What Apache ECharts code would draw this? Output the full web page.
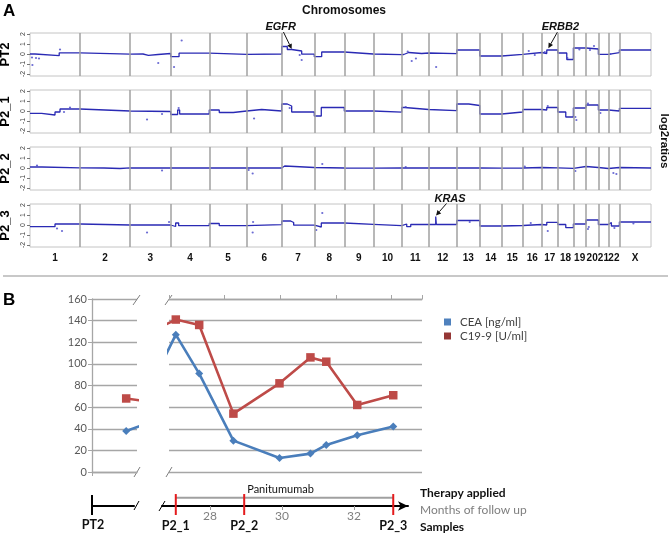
<!DOCTYPE html>
<html><head><meta charset="utf-8">
<script src="https://cdn.jsdelivr.net/npm/echarts@6/dist/echarts.min.js"></script>
<style>html,body{margin:0;padding:0;background:#fff}#c{width:672px;height:537px}</style>
</head><body><div id="c"></div>
<script>
// ---------------- DATA: panel A ----------------
const chromNames = ['1','2','3','4','5','6','7','8','9','10','11','12','13','14','15','16','17','18','19','20','21','22','X'];
const chromLen = [250,250,203,193,187,175,163,150,145,142,135,140,115,110,105,95,80,78,63,62,50,55,158];
const sampleNames = ['PT2','P2_1','P2_2','P2_3'];
const log2Ticks = [-2,-1,0,1,2];
// segments: [chromosome, start Mb, end Mb, log2 ratio]
const segPT2 = [
 [1,0,25,0.0],[1,25,146,-0.17],[1,146,250,0.12],[2,0,250,-0.02],
 [3,0,65,0.0],[3,65,92,-0.13],[3,92,140,-0.05],[3,140,203,0.05],
 [4,0,42,-0.27],[4,42,193,0.08],[5,0,187,-0.03],[6,0,175,0.0],
 [7,0,28,0.75],[7,28,50,0.45],[7,50,100,0.3],[7,100,163,-0.02],
 [8,0,37,-0.27],[8,37,150,0.2],[9,0,145,0.0],[10,0,142,-0.07],
 [11,0,10,-0.05],[11,10,35,0.15],[11,35,100,0.05],[11,100,135,0.1],
 [12,0,140,0.03],[13,0,115,0.4],[14,0,110,-0.2],[15,0,105,-0.03],[16,0,95,0.15],
 [17,0,25,0.05],[17,25,80,0.4],[18,0,45,0.1],[18,45,78,-0.55],
 [19,0,63,0.6],[20,0,62,0.5],[21,0,50,-0.03],[22,0,55,0.13],[23,0,158,0.4]
];
const dotsPT2 = [[1,10,-0.35],[1,12,-1.1],[1,30,-0.4],[1,45,-0.45],[1,150,0.45],[3,141,-0.9],[4,17,-1.3],[4,55,1.35],
 [7,100,-0.6],[7,90,-0.1],[11,50,-0.7],[11,71,-0.45],[11,30,0.25],[12,37,-1.3],[16,30,0.3],[16,60,-0.1],[17,15,0.2],
 [18,48,-0.4],[19,30,0.45],[20,40,0.8],[20,20,0.4],[22,10,0.0]];
const segP2_1 = [
 [1,0,58,-0.24],[1,58,125,-0.4],[1,125,150,-0.1],[1,150,250,0.2],[2,0,250,0.0],[3,0,203,-0.05],
 [4,0,35,-0.35],[4,35,45,0.1],[4,45,193,-0.3],[5,0,50,0.1],[5,50,120,-0.15],[5,120,187,0.0],
 [6,0,75,0.15],[6,75,175,0.0],[7,0,28,0.7],[7,28,50,0.5],[7,50,163,-0.1],
 [8,0,35,-0.5],[8,35,150,0.35],[9,0,145,0.0],[10,0,142,-0.12],[11,0,15,0.35],[11,15,135,0.15],
 [12,0,140,0.03],[13,0,60,0.7],[13,60,115,0.55],[14,0,110,-0.3],[15,0,105,-0.1],[16,0,95,0.15],
 [17,0,25,0.1],[17,25,80,0.35],[18,0,40,-0.1],[18,40,78,-0.6],[19,0,63,0.3],[20,0,62,0.6],
 [21,0,50,0.1],[22,0,55,0.0],[23,0,158,0.27]
];
const dotsP2_1 = [[1,170,-0.1],[1,200,0.35],[3,85,-0.85],[3,160,-0.3],[4,40,0.3],[6,37,-0.75],[7,40,0.3],[11,20,0.4],
 [17,30,0.5],[19,10,-0.6],[19,15,-0.9],[20,10,0.75],[21,10,-0.2]];
const segP2_2 = [
 [1,0,60,0.1],[1,60,250,0.02],[2,0,120,0.0],[2,120,200,-0.05],[2,200,250,0.02],[3,0,203,0.0],
 [4,0,193,0.0],[5,0,187,0.0],[6,0,175,0.0],[7,0,15,0.2],[7,15,163,0.05],[8,0,150,0.0],
 [9,0,145,-0.02],[10,0,142,0.0],[11,0,135,0.02],[12,0,140,0.0],[13,0,115,0.0],[14,0,110,-0.02],
 [15,0,105,0.0],[16,0,95,0.05],[17,0,80,0.02],[18,0,78,-0.03],[19,0,63,0.15],[20,0,62,0.05],
 [21,0,50,-0.05],[22,0,55,0.05],[23,0,158,0.0]
];
const dotsP2_2 = [[1,35,0.25],[3,160,-0.25],[6,30,-0.55],[6,10,-0.2],[8,40,0.4],[11,20,0.1],[16,10,0.15],
 [19,10,-0.3],[22,25,-0.5],[22,40,-0.6]];
const segP2_3 = [
 [1,0,125,-0.17],[1,125,250,0.1],[2,0,250,0.0],[3,0,203,0.0],
 [4,0,25,-0.15],[4,25,40,0.2],[4,40,193,-0.07],[5,0,50,0.15],[5,50,187,-0.07],[6,0,175,0.03],
 [7,0,45,0.4],[7,45,60,0.25],[7,60,163,-0.02],[8,0,35,-0.2],[8,35,150,0.2],[9,0,145,0.07],
 [10,0,142,-0.07],[11,0,25,0.1],[11,25,45,-0.17],[11,45,135,0.05],
 [12,0,35,0.05],[12,35,38,0.85],[12,38,140,0.05],[13,0,115,0.45],[14,0,110,-0.1],[15,0,105,-0.05],
 [16,0,95,0.05],[17,0,25,0.0],[17,25,80,0.27],[18,0,40,0.05],[18,40,78,-0.27],[19,0,63,0.1],
 [20,0,62,0.5],[21,0,50,0.05],[22,0,15,0.25],[22,15,55,-0.1],[23,0,158,0.3]
];
const dotsP2_3 = [[1,135,-0.35],[1,160,-0.6],[3,85,-0.75],[3,195,0.3],[6,30,-0.75],[6,32,0.3],[8,10,-0.5],[8,40,1.2],
 [13,65,0.3],[16,40,0.2],[17,30,-0.6],[20,10,-0.4],[20,14,-0.2],[22,30,-0.3],[23,70,0.15]];
// annotated genes: [name, sample row, chromosome, Mb, log2]
const genes = [['EGFR',0,7,50,0.5],['ERBB2',0,17,33,0.58],['KRAS',3,12,36.5,0.95]];

// ---------------- DATA: panel B ----------------
const followMonths = [27.05, 27.70, 28.65, 29.93, 30.79, 31.23, 32.09, 33.09];
const ceaValues   = [127, 91, 29, 13, 17, 25, 34, 42];
const c199Values  = [141, 136, 54, 82, 106, 102, 62, 71];
const pt2CEA = 38, pt2C199 = 68;
// lines crossing the axis break (estimated from the visible slopes)
const ceaAcrossBreakLeft = 50, c199AcrossBreakLeft = 63.5;   // continuation after PT2
const ceaAcrossBreakRight = 90, c199AcrossBreakRight = 132;  // point before P2_1
const monthTicks = [28, 30, 32];
const sampleMonths = [27.05, 28.95, 33.09];
const sampleLabels = ['P2_1','P2_2','P2_3'];
const therapyName = 'Panitumumab';
const seriesNames = ['CEA [ng/ml]','C19-9 [U/ml]'];

// ---------------- build ----------------
const offsets = []; let acc = 0;
chromLen.forEach(l => { offsets.push(acc); acc += l; });
const total = acc;
const centers = chromLen.map((l,i) => offsets[i] + l/2);
const bounds = offsets.slice(1);
const g = (c, p) => offsets[c-1] + p;
const segToLine = segs => { const d = []; segs.forEach(s => { d.push([g(s[0],s[1]), s[3]]); d.push([g(s[0],s[2]), s[3]]); }); return d; };
const dotsToPts = ds => ds.map(d => [g(d[0],d[1]), d[2]]);
const allSegs = [segPT2, segP2_1, segP2_2, segP2_3];
const allDots = [dotsPT2, dotsP2_1, dotsP2_2, dotsP2_3];

const CNV = '#2a2ab4';
const FA = 'Liberation Sans';
const FB = 'Lato';
const GRAY = '#a6a6a6';
const BLUE = '#4a7ebb', RED = '#be4b48';
const NB = {outerBoundsMode:'none', containLabel:false};

const grid = [], xAxis = [], yAxis = [], series = [];
for (let r = 0; r < 4; r++) {
  grid.push(Object.assign({left:30, top:33 + r*57, width:621, height:43, show:true, borderColor:'#c4c4c4', borderWidth:1, backgroundColor:'transparent'}, NB));
  xAxis.push({gridIndex:r, type:'value', min:0, max:total, axisLine:{show:false}, axisTick:{show:false}, splitLine:{show:false},
    axisLabel: r === 3 ? {customValues:centers, margin:6, fontSize:10, fontWeight:'bold', fontFamily:FA, color:'#111',
      formatter: v => { const i = centers.findIndex(c => Math.abs(c - v) < 0.01); return i >= 0 ? chromNames[i] : ''; }} : {show:false}});
  yAxis.push({gridIndex:r, type:'value', min:-2.2, max:2.1, name:sampleNames[r], nameLocation:'middle', nameGap:15, nameRotate:90,
    nameTextStyle:{fontWeight:'bold', fontSize:13, fontFamily:FA, color:'#000'},
    axisLine:{show:false, onZero:false}, axisTick:{show:true, customValues:log2Ticks, length:3, lineStyle:{color:'#777'}},
    axisLabel:{customValues:log2Ticks, rotate:90, fontSize:7, margin:3, color:'#444', fontFamily:FA}, splitLine:{show:false}});
  series.push({type:'line', xAxisIndex:r, yAxisIndex:r, data:segToLine(allSegs[r]), showSymbol:false, silent:true,
    lineStyle:{color:CNV, width:1.3}, z:3,
    markLine:{silent:true, symbol:['none','none'], label:{show:false}, animation:false,
      lineStyle:{color:'#a0a0a0', width:1.5, type:'solid'}, emphasis:{disabled:true}, data:bounds.map(b => ({xAxis:b}))}});
  series.push({type:'scatter', xAxisIndex:r, yAxisIndex:r, data:dotsToPts(allDots[r]), symbolSize:2.2, silent:true,
    itemStyle:{color:'#4646c8'}, z:4});
}
// panel B left part (index 4) and right part (index 5)
grid.push(Object.assign({left:92, top:299, width:45, height:173}, NB));
grid.push(Object.assign({left:169, top:299, width:253, height:173}, NB));
// timeline grids (6 main, 7 PT2)
grid.push(Object.assign({left:162, top:480, width:246, height:26}, NB));
grid.push(Object.assign({left:92, top:480, width:42, height:26}, NB));

xAxis.push({gridIndex:4, type:'value', min:-0.95, max:0.3, axisLine:{show:true, onZero:false, lineStyle:{color:GRAY, width:1.3}},
  axisTick:{show:true, customValues:[-0.95], length:4, lineStyle:{color:GRAY}}, axisLabel:{show:false}, splitLine:{show:false}});
xAxis.push({gridIndex:5, type:'value', min:26.861, max:33.889, show:false});
xAxis.push({gridIndex:5, type:'value', min:0, max:4.55, interval:1, axisLine:{show:true, onZero:false, lineStyle:{color:GRAY, width:1.3}},
  axisTick:{show:true, length:4, lineStyle:{color:GRAY}}, axisLabel:{show:false}, splitLine:{show:false}});
xAxis.push({gridIndex:6, type:'value', min:26.667, max:33.5,
  axisLine:{show:true, onZero:false, lineStyle:{color:'#000', width:2}, symbol:['none','arrow'], symbolSize:[7,10]},
  axisTick:{show:true, customValues:monthTicks, length:4, lineStyle:{color:'#999'}},
  axisLabel:{customValues:monthTicks, color:'#7f7f7f', fontSize:12, margin:4, fontFamily:FB}, splitLine:{show:false}});
xAxis.push({gridIndex:7, type:'value', min:0, max:1, axisLine:{show:true, onZero:false, lineStyle:{color:'#000', width:2}},
  axisTick:{show:false}, axisLabel:{show:false}, splitLine:{show:false}});

yAxis.push({gridIndex:4, type:'value', min:0, max:160, interval:20, axisLine:{show:true, onZero:false, lineStyle:{color:GRAY, width:1.3}},
  axisTick:{show:true, length:4, lineStyle:{color:GRAY}}, axisLabel:{color:'#595959', fontSize:11, margin:5, fontFamily:FB},
  splitLine:{lineStyle:{color:GRAY, width:1.3}}});
yAxis.push({gridIndex:5, type:'value', min:0, max:160, interval:20, axisLine:{show:false}, axisTick:{show:false},
  axisLabel:{show:false}, splitLine:{lineStyle:{color:GRAY, width:1.3}}});
yAxis.push({gridIndex:6, type:'value', min:0, max:1, show:false});
yAxis.push({gridIndex:7, type:'value', min:0, max:1, show:false});

const ceaStyle = {symbol:'diamond', symbolSize:8, lineStyle:{color:BLUE, width:2.6}, itemStyle:{color:BLUE}};
const c199Style = {symbol:'rect', symbolSize:8.5, lineStyle:{color:RED, width:2.6}, itemStyle:{color:RED}};
series.push(Object.assign({type:'line', name:seriesNames[0], xAxisIndex:4, yAxisIndex:4, clip:true, showAllSymbol:true,
  data:[[0,pt2CEA],[1,ceaAcrossBreakLeft]], z:5}, ceaStyle));
series.push(Object.assign({type:'line', name:seriesNames[1], xAxisIndex:4, yAxisIndex:4, clip:true, showAllSymbol:true,
  data:[[0,pt2C199],[1,c199AcrossBreakLeft]], z:5}, c199Style));
series.push(Object.assign({type:'line', name:seriesNames[0], xAxisIndex:5, yAxisIndex:5, clip:true, showAllSymbol:true,
  data:[[26.5,ceaAcrossBreakRight]].concat(followMonths.map((m,i) => [m, ceaValues[i]])), z:5}, ceaStyle));
series.push(Object.assign({type:'line', name:seriesNames[1], xAxisIndex:5, yAxisIndex:5, clip:true, showAllSymbol:true,
  data:[[26.5,c199AcrossBreakRight]].concat(followMonths.map((m,i) => [m, c199Values[i]])), z:5}, c199Style));

// timeline
const MARK_TOP = 0.46, MARK_BOT = -0.346, BAR_Y = 0.319, PT2_TOP = 0.423;
series.push({type:'line', xAxisIndex:7, yAxisIndex:6, data:[[sampleMonths[0],BAR_Y],[sampleMonths[2],BAR_Y]],
  showSymbol:false, silent:true, lineStyle:{color:'#a0a0a0', width:2}, z:2});
sampleMonths.forEach((m,i) => {
  series.push({type:'line', xAxisIndex:7, yAxisIndex:6, clip:false, silent:true, z:4,
    data:[[m,MARK_TOP],[m,MARK_BOT]], symbol:'none', lineStyle:{color:'#e41a1c', width:2}});
});
series.push({type:'line', xAxisIndex:8, yAxisIndex:7, clip:false, silent:true, z:4,
  data:[[0,PT2_TOP],[0,MARK_BOT]], symbol:'none', lineStyle:{color:'#000', width:2}});

const option = {
  animation:false, backgroundColor:'#fff',
  grid, xAxis, yAxis, series,
  legend:{data:[{name:seriesNames[0], itemStyle:{color:'#4f81bd'}},{name:seriesNames[1], itemStyle:{color:'#953735'}}],
    orient:'vertical', left:439, top:311, itemWidth:7, itemHeight:7, itemGap:2, icon:'rect', selectedMode:false,
    textStyle:{fontSize:11.5, color:'#404040', fontFamily:FB, padding:[0,0,0,4]}}
};
const chart = echarts.init(document.getElementById('c'), null, {renderer:'canvas'});
chart.setOption(option);

// ---------------- annotations (positions through the library's scales) ----------------
const gr = [];
const txt = (x,y,text,font,fill,align,extra) => Object.assign({type:'text', x, y, silent:true,
  style:{text, font, fill:fill||'#000', align:align||'left', verticalAlign:'middle'}}, extra||{});
gr.push(txt(3,11,'A','bold 17px '+FA));
gr.push(txt(344,11,'Chromosomes','bold 12px '+FA,'#111','center'));
gr.push(txt(664,141,'log2ratios','bold 11.5px '+FA,'#111','center',{rotation:-Math.PI/2}));
gr.push(txt(3,300,'B','bold 17px '+FA));
gr.push(txt(420,493,'Therapy applied','bold 12px '+FB,'#111'));
gr.push(txt(420,510,'Months of follow up','12px '+FB,'#7f7f7f'));
gr.push(txt(420,527,'Samples','bold 12px '+FB,'#111'));
// therapy label
const pm = chart.convertToPixel({xAxisIndex:7, yAxisIndex:6}, [(sampleMonths[0]+sampleMonths[2])/2, BAR_Y]);
gr.push(txt(pm[0]-4, pm[1]-8, therapyName, '11px '+FB, '#111', 'center'));
// sample labels under the timeline markers
sampleMonths.forEach((m,i) => {
  const p = chart.convertToPixel({xAxisIndex:7, yAxisIndex:6}, [m, MARK_BOT]);
  gr.push(txt(p[0], p[1]+11, sampleLabels[i], 'bold 12.5px '+FB, '#111', 'center'));
});
const p0 = chart.convertToPixel({xAxisIndex:8, yAxisIndex:7}, [0, MARK_BOT]);
gr.push(txt(p0[0]+1, p0[1]+10, 'PT2', 'bold 12.5px '+FB, '#111', 'center'));
// gene arrows
const labelOff = {EGFR:[-11,-22], ERBB2:[12,-21], KRAS:[14,-17]};
genes.forEach(ge => {
  const tip = chart.convertToPixel({xAxisIndex:ge[1], yAxisIndex:ge[1]}, [g(ge[2],ge[3]), ge[4]]);
  const off = labelOff[ge[0]];
  const lx = tip[0]+off[0], ly = tip[1]+off[1];
  gr.push(txt(lx, ly, ge[0], 'italic bold 11px '+FA, '#111', 'center'));
  const sx = lx + off[0]*(-0.25), sy = ly + 5;
  const ang = Math.atan2(tip[1]-sy, tip[0]-sx);
  const hl = 5, hw = 2.5;
  const bx = tip[0]-hl*Math.cos(ang), by = tip[1]-hl*Math.sin(ang);
  gr.push({type:'line', silent:true, shape:{x1:sx, y1:sy, x2:bx, y2:by}, style:{stroke:'#111', lineWidth:1}});
  gr.push({type:'polygon', silent:true, shape:{points:[[tip[0],tip[1]],[bx+hw*Math.sin(ang), by-hw*Math.cos(ang)],[bx-hw*Math.sin(ang), by+hw*Math.cos(ang)]]},
    style:{fill:'#111'}});
});
// axis break marks
const sl = (x1,y1,x2,y2,c) => ({type:'line', silent:true, shape:{x1,y1,x2,y2}, style:{stroke:c, lineWidth:1}});
gr.push(sl(133,305,140,295,'#7f7f7f'), sl(165,305,172,295,'#7f7f7f'));
gr.push(sl(134,477,140,467,'#7f7f7f'), sl(166,477,172,467,'#7f7f7f'));
gr.push(sl(134,510,139,501,'#000'), sl(159,511,165,501,'#000'));
// separator between panels
gr.push({type:'line', silent:true, shape:{x1:3, y1:276, x2:668, y2:276}, style:{stroke:'#c8c8c8', lineWidth:2}});
chart.setOption({graphic:gr});
</script>
</body></html>
